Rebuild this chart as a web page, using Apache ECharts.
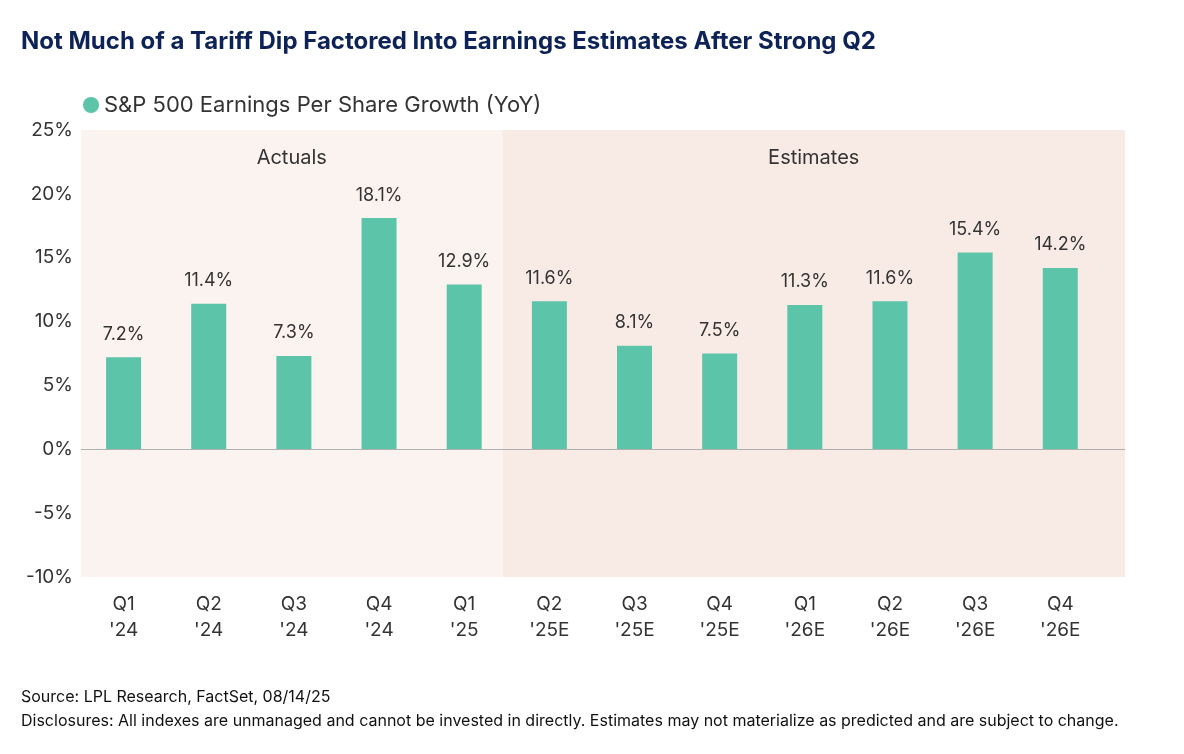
<!DOCTYPE html>
<html>
<head>
<meta charset="utf-8">
<script src="https://cdn.jsdelivr.net/npm/echarts@6/dist/echarts.min.js"></script>
<style>
  body { margin: 0; background: #fff; font-family: Inter, "Noto Sans", sans-serif; }
  #chart { width: 1184px; height: 754px; }
</style>
</head>
<body>
<div id="chart"></div>
<script>
const categories = ["Q1\n'24", "Q2\n'24", "Q3\n'24", "Q4\n'24", "Q1\n'25", "Q2\n'25E", "Q3\n'25E", "Q4\n'25E", "Q1\n'26E", "Q2\n'26E", "Q3\n'26E", "Q4\n'26E"];
const epsGrowth = [7.2, 11.4, 7.3, 18.1, 12.9, 11.6, 8.1, 7.5, 11.3, 11.6, 15.4, 14.2];
const yTicks = [-10, -5, 0, 5, 10, 15, 20, 25];

const chart = echarts.init(document.getElementById('chart'));
const option = {
    animation: false,
    textStyle: { fontFamily: 'Inter, "Noto Sans", sans-serif' },
    title: [
        { text: 'Not Much of a Tariff Dip Factored Into Earnings Estimates After Strong Q2', left: 16, top: 25,
          textStyle: { fontSize: 24, fontWeight: 'bold', color: '#0d2257' } },
        { text: 'Source: LPL Research, FactSet, 08/14/25\nDisclosures: All indexes are unmanaged and cannot be invested in directly. Estimates may not materialize as predicted and are subject to change.',
          left: 16, top: 680, textStyle: { fontSize: 16, fontWeight: 'normal', color: '#111', lineHeight: 24 } }
    ],
    legend: {
        left: 78, top: 89, icon: 'circle', itemWidth: 16, itemHeight: 16,
        textStyle: { fontSize: 22, color: '#333' }
    },
    grid: { left: 81, right: 59, top: 130, bottom: 177 },
    xAxis: {
        type: 'value', min: -0.5, max: 11.76,
        axisLine: { show: false }, axisTick: { show: false }, splitLine: { show: false },
        axisLabel: {
            customValues: categories.map((c, i) => i),
            formatter: v => categories[Math.round(v)],
            fontSize: 19, color: '#333', lineHeight: 26, margin: 14
        }
    },
    yAxis: {
        type: 'value', min: -10, max: 25, interval: 5,
        axisLine: { show: false }, axisTick: { show: false }, splitLine: { show: false },
        axisLabel: { formatter: v => yTicks.includes(v) ? v + '%' : '', fontSize: 19, color: '#333', margin: 8 }
    },
    series: [{
        name: 'S&P 500 Earnings Per Share Growth (YoY)',
        type: 'bar',
        barWidth: 35,
        data: epsGrowth.map((v, i) => [i, v]),
        itemStyle: { color: '#5cc4a9' },
        label: { show: true, position: 'top', distance: 14, formatter: p => p.value[1].toFixed(1) + '%', fontSize: 18, color: '#333' },
        markLine: {
            silent: true, symbol: 'none', label: { show: false },
            lineStyle: { color: '#b0b0b0', type: 'solid', width: 1 },
            data: [{ yAxis: 0 }]
        },
        markArea: {
            silent: true,
            label: { position: 'insideTop', distance: 18, fontSize: 20, color: '#333' },
            data: [
                [{ name: 'Actuals', xAxis: -0.5, itemStyle: { color: '#fbf3f0' } }, { xAxis: 4.45 }],
                [{ name: 'Estimates', xAxis: 4.45, itemStyle: { color: '#f8ebe5' } }, { xAxis: 11.76 }]
            ]
        }
    }]
};
chart.setOption(option);
</script>
</body>
</html>
